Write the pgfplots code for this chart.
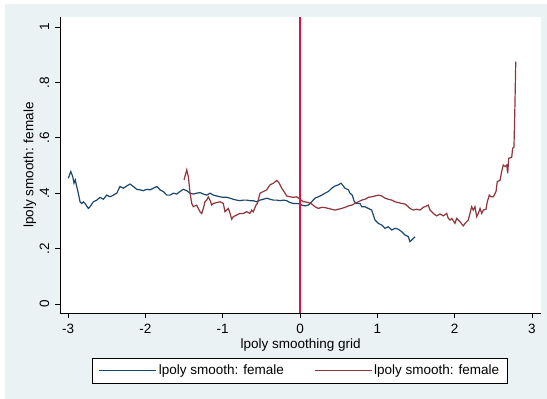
\documentclass[border=0pt]{standalone}
\usepackage{pgfplots}
\pgfplotsset{compat=1.18}
\usepackage{fontspec}
\setmainfont{Liberation Sans}
\definecolor{bgblue}{RGB}{234,242,243}
\definecolor{stnavy}{RGB}{26,71,111}
\definecolor{stmaroon}{RGB}{144,53,59}
\definecolor{vline}{RGB}{220,20,60}
\begin{document}
\begin{tikzpicture}
\useasboundingbox (0pt,0pt) rectangle (547pt,399pt);
\fill[bgblue] (5pt,0pt) rectangle (547pt,395pt);
\begin{axis}[
  at={(60pt,86pt)}, anchor=south west,
  scale only axis, width=481.5pt, height=296pt,
  xmin=-3.104, xmax=3.123, ymin=-0.0325, ymax=1.036,
  axis x line*=bottom, axis y line*=left,
  axis line style={black, line width=0.8pt, -},
  axis background/.style={fill=white},
  tick align=outside, major tick length=5pt,
  tick style={black, line width=0.8pt},
  xtick={-3,-2,-1,0,1,2,3},
  ytick={0,0.2,0.4,0.6,0.8,1},
  yticklabels={0,.2,.4,.6,.8,1},
  /pgf/number format/assume math mode=true,
  font=\fontsize{13.5}{16}\selectfont,
  ticklabel style={font=\fontsize{13.5}{16}\selectfont},
  yticklabel style={rotate=90, anchor=center, yshift=10.5pt},
  xticklabel style={anchor=north, yshift=-3pt},
  xlabel={lpoly smoothing grid},
  ylabel={lpoly smooth: female},
  xlabel style={at={(axis description cs:0.5,-0.108)}, anchor=center},
  ylabel style={at={(axis description cs:-0.0623,0.5)}, anchor=center},
  legend columns=2,
  legend style={at={(axis description cs:0.4984,-0.1943)}, anchor=center,
    draw=black, line width=0.6pt, fill=white, font=\fontsize{13.5}{16}\selectfont,
    inner xsep=6pt, inner ysep=5pt,
    /tikz/every even column/.append style={column sep=28pt}},
  legend image code/.code={\path (0pt,0pt) -- (57pt,0pt);\draw[#1] (0pt,0pt) -- (52pt,0pt);},
]
\addplot[stnavy, line width=1.2pt] coordinates {
(-2.996,0.454)(-2.965,0.478)(-2.939,0.460)(-2.923,0.436)(-2.906,0.448)(-2.888,0.424)(-2.867,0.400)(-2.845,0.369)(-2.823,0.363)(-2.802,0.369)(-2.780,0.363)(-2.738,0.345)(-2.716,0.351)(-2.673,0.369)(-2.629,0.375)(-2.586,0.385)(-2.544,0.378)(-2.500,0.393)(-2.457,0.387)(-2.414,0.393)(-2.370,0.400)(-2.328,0.424)(-2.285,0.418)(-2.241,0.426)(-2.198,0.433)(-2.155,0.424)(-2.112,0.414)(-2.069,0.412)(-2.026,0.409)(-1.982,0.414)(-1.940,0.412)(-1.897,0.418)(-1.853,0.424)(-1.810,0.412)(-1.768,0.406)(-1.724,0.393)(-1.681,0.393)(-1.638,0.400)(-1.594,0.397)(-1.552,0.406)(-1.509,0.414)(-1.465,0.409)(-1.422,0.400)(-1.380,0.397)(-1.336,0.400)(-1.293,0.402)(-1.250,0.397)(-1.207,0.393)(-1.164,0.400)(-1.121,0.393)(-1.077,0.390)(-1.035,0.387)(-0.992,0.385)(-0.948,0.385)(-0.905,0.382)(-0.863,0.378)(-0.819,0.375)(-0.776,0.373)(-0.733,0.375)(-0.689,0.375)(-0.647,0.373)(-0.604,0.373)(-0.560,0.369)(-0.517,0.375)(-0.475,0.378)(-0.431,0.382)(-0.388,0.378)(-0.345,0.375)(-0.301,0.375)(-0.259,0.373)(-0.216,0.375)(-0.172,0.373)(-0.129,0.366)(-0.087,0.363)(-0.043,0.363)(0,0.361)(0.022,0.357)(0.065,0.354)(0.107,0.357)(0.151,0.369)(0.194,0.382)(0.237,0.387)(0.281,0.393)(0.323,0.400)(0.366,0.406)(0.410,0.418)(0.453,0.426)(0.495,0.430)(0.530,0.436)(0.560,0.426)(0.582,0.418)(0.625,0.412)(0.647,0.400)(0.676,0.393)(0.702,0.369)(0.733,0.363)(0.776,0.363)(0.798,0.351)(0.841,0.351)(0.883,0.345)(0.927,0.339)(0.948,0.321)(0.970,0.303)(1.013,0.291)(1.057,0.285)(1.099,0.273)(1.142,0.279)(1.186,0.267)(1.229,0.273)(1.271,0.270)(1.315,0.261)(1.358,0.249)(1.400,0.243)(1.422,0.225)(1.444,0.231)(1.487,0.243)
};
\addlegendentry{lpoly smooth: female}
\addplot[stmaroon, line width=1.2pt] coordinates {
(-1.500,0.448)(-1.465,0.484)(-1.444,0.460)(-1.422,0.400)(-1.400,0.363)(-1.380,0.351)(-1.336,0.357)(-1.293,0.333)(-1.271,0.327)(-1.250,0.345)(-1.229,0.369)(-1.207,0.375)(-1.186,0.387)(-1.164,0.375)(-1.142,0.357)(-1.121,0.363)(-1.077,0.366)(-1.035,0.369)(-0.992,0.363)(-0.970,0.333)(-0.927,0.345)(-0.905,0.327)(-0.883,0.306)(-0.863,0.315)(-0.819,0.321)(-0.776,0.327)(-0.733,0.327)(-0.689,0.333)(-0.647,0.327)(-0.625,0.339)(-0.604,0.333)(-0.569,0.357)(-0.552,0.363)(-0.517,0.400)(-0.475,0.406)(-0.431,0.412)(-0.388,0.430)(-0.345,0.436)(-0.301,0.446)(-0.268,0.436)(-0.237,0.418)(-0.194,0.400)(-0.172,0.390)(-0.129,0.387)(-0.087,0.385)(-0.043,0.387)(0,0.378)(0.043,0.369)(0.065,0.369)(0.107,0.366)(0.151,0.361)(0.194,0.351)(0.237,0.345)(0.281,0.349)(0.323,0.348)(0.366,0.345)(0.410,0.342)(0.453,0.339)(0.495,0.342)(0.539,0.345)(0.582,0.349)(0.625,0.354)(0.669,0.357)(0.711,0.363)(0.754,0.369)(0.798,0.375)(0.841,0.378)(0.883,0.385)(0.927,0.387)(0.970,0.390)(1.013,0.393)(1.057,0.390)(1.099,0.382)(1.142,0.378)(1.186,0.375)(1.229,0.369)(1.271,0.366)(1.315,0.363)(1.358,0.361)(1.400,0.351)(1.422,0.345)(1.465,0.339)(1.509,0.342)(1.552,0.339)(1.595,0.349)(1.638,0.354)(1.659,0.357)(1.681,0.339)(1.724,0.327)(1.768,0.318)(1.810,0.325)(1.853,0.318)(1.897,0.327)(1.918,0.309)(1.940,0.303)(1.962,0.309)(2.004,0.291)(2.026,0.309)(2.069,0.297)(2.112,0.282)(2.134,0.291)(2.176,0.303)(2.198,0.327)(2.220,0.351)(2.241,0.339)(2.263,0.351)(2.285,0.315)(2.306,0.327)(2.328,0.345)(2.350,0.327)(2.371,0.339)(2.405,0.342)(2.422,0.369)(2.448,0.393)(2.470,0.387)(2.500,0.387)(2.535,0.406)(2.551,0.442)(2.586,0.446)(2.608,0.478)(2.629,0.502)(2.651,0.496)(2.673,0.502)(2.686,0.472)(2.699,0.526)(2.738,0.530)(2.750,0.562)(2.767,0.566)(2.780,0.724)(2.790,0.875)
};
\addlegendentry{lpoly smooth: female}
\addplot[vline, line width=1.5pt, forget plot] coordinates {(0,-0.0325) (0,1.036)};
\end{axis}
\end{tikzpicture}
\end{document}
